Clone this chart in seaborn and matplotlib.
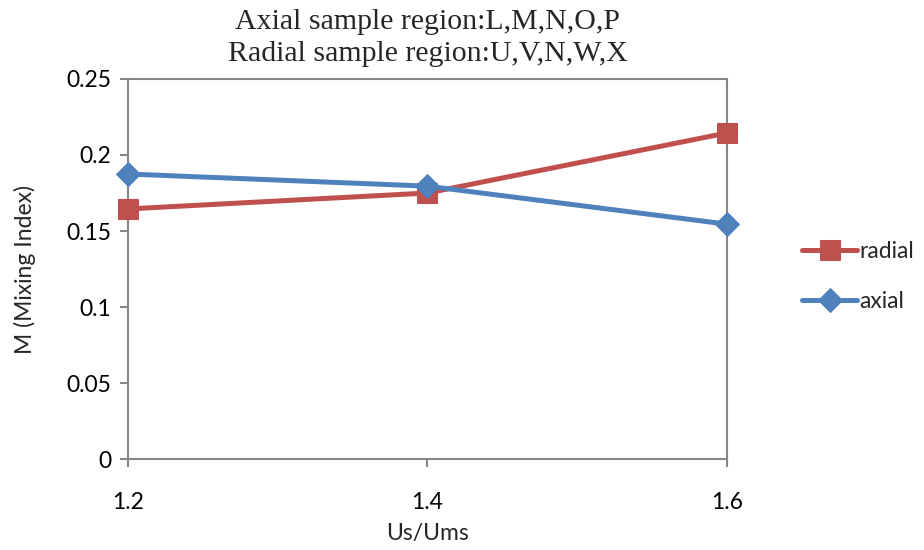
import matplotlib
matplotlib.use("Agg")
import matplotlib.pyplot as plt
import seaborn as sns
import pandas as pd

# Superficial gas velocity ratio and mixing index per sampling direction
us_ums = [1.2, 1.4, 1.6]
radial = [0.1645, 0.175, 0.2145]
axial = [0.1875, 0.1795, 0.1545]
series_names = ["radial", "axial"]
y_ticks = [0, 0.05, 0.1, 0.15, 0.2, 0.25]
y_tick_labels = ["0", "0.05", "0.1", "0.15", "0.2", "0.25"]
x_ticks = [1.2, 1.4, 1.6]
x_tick_labels = ["1.2", "1.4", "1.6"]

df = pd.DataFrame({
    "Us/Ums": us_ums * 2,
    "M": radial + axial,
    "series": [series_names[0]] * 3 + [series_names[1]] * 3,
})

sns.set_theme(style="white")
plt.rcParams["font.family"] = ["Lato", "DejaVu Sans"]

fig = plt.figure(figsize=(9.24, 5.5), dpi=100)
ax = fig.add_axes([128 / 924, 91 / 550, 599 / 924, 380 / 550])

palette = {"radial": "#C0504D", "axial": "#4F81BD"}
markers = {"radial": "s", "axial": "D"}
sizes_map = {"radial": 14, "axial": 12}

for name in series_names:
    sub = df[df["series"] == name]
    sns.lineplot(data=sub, x="Us/Ums", y="M", ax=ax, color=palette[name],
                 marker=markers[name], markersize=sizes_map[name],
                 markeredgecolor=palette[name], linewidth=3.6, label=name,
                 legend=False, clip_on=False, zorder=3)

ax.set_xlim(1.2, 1.6)
ax.set_ylim(0, 0.25)
ax.set_xticks(x_ticks)
ax.set_xticklabels(x_tick_labels)
ax.set_yticks(y_ticks)
ax.set_yticklabels(y_tick_labels)

spine_color = "#868686"
for s in ax.spines.values():
    s.set_visible(True)
    s.set_color(spine_color)
    s.set_linewidth(1.5)
ax.tick_params(axis="both", direction="out", length=6, width=1.5,
               color=spine_color, labelsize=16.5, labelcolor="black",
               left=True, bottom=True)
ax.tick_params(axis="x", pad=18)
ax.tick_params(axis="y", pad=6)

ax.set_xlabel("Us/Ums", fontsize=16.5, labelpad=7)
ax.set_ylabel("M (Mixing Index)", fontsize=16.5, labelpad=22)

ax.set_title("Axial sample region:L,M,N,O,P\nRadial sample region:U,V,N,W,X",
             fontsize=21.5, family=["Liberation Serif"], linespacing=1.28, pad=13)

ax.legend(loc="center left", bbox_to_anchor=(1.11, 0.48), frameon=False,
          fontsize=16.5, handlelength=2.4, handletextpad=0.1,
          labelspacing=1.3, borderaxespad=0)

fig.savefig("out.png", dpi=100, facecolor="white")
